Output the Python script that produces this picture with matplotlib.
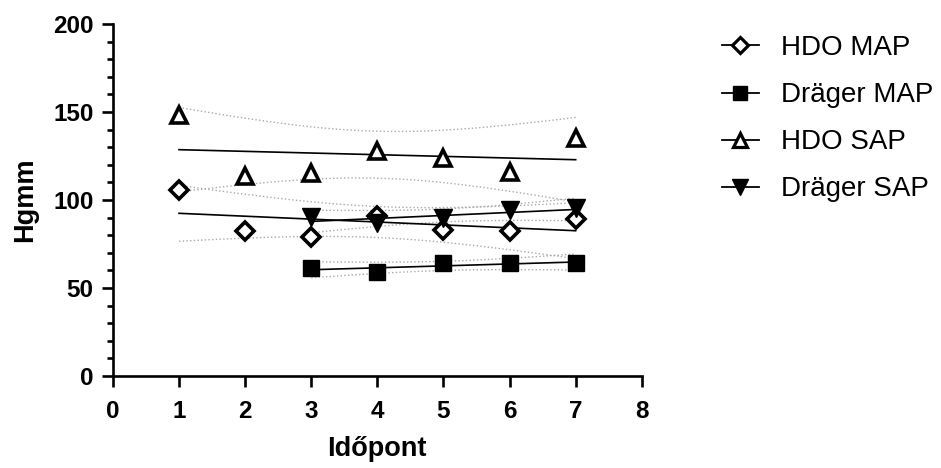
import numpy as np
import matplotlib
matplotlib.use("Agg")
from matplotlib import pyplot as plt
from matplotlib.ticker import MultipleLocator

plt.rcParams['font.family'] = ['Liberation Sans', 'DejaVu Sans']

# mérési adatok (időpont -> Hgmm)
hdo_x = [1, 2, 3, 4, 5, 6, 7]
hdo_map = [105.7, 82.5, 79.0, 90.9, 82.9, 82.5, 89.0]
hdo_sap = [148.6, 113.7, 115.2, 127.6, 123.8, 116.2, 135.2]

drager_x = [3, 4, 5, 6, 7]
drager_map = [61.3, 59.0, 64.2, 64.2, 64.2]
drager_sap = [90.5, 86.7, 89.5, 94.3, 95.2]

# t-értékek a 95%-os konfidenciasávhoz (df = n - 2)
t95 = {3: 3.182, 5: 2.571}


def regresszio(ax, x, y):
    """Lineáris illesztés + 95%-os konfidenciasáv."""
    x = np.asarray(x, float)
    y = np.asarray(y, float)
    n = len(x)
    b, a = np.polyfit(x, y, 1)
    res = y - (a + b * x)
    s = np.sqrt(np.sum(res ** 2) / (n - 2))
    sxx = np.sum((x - x.mean()) ** 2)
    xx = np.linspace(x.min(), x.max(), 100)
    yy = a + b * xx
    se = s * np.sqrt(1.0 / n + (xx - x.mean()) ** 2 / sxx)
    d = t95[n - 2] * se
    ax.plot(xx, yy, color='k', lw=1.2, zorder=2)
    ax.plot(xx, yy + d, color='#aaaaaa', lw=1.0, ls=':', zorder=1)
    ax.plot(xx, yy - d, color='#aaaaaa', lw=1.0, ls=':', zorder=1)


fig = plt.figure(figsize=(9.41, 4.68), dpi=100)
ax = fig.add_axes([0.120, 0.1966, 0.562, 0.752])

regresszio(ax, hdo_x, hdo_map)
regresszio(ax, drager_x, drager_map)
regresszio(ax, hdo_x, hdo_sap)
regresszio(ax, drager_x, drager_sap)

mew = 2.6
ax.plot(hdo_x, hdo_map, ls='none', marker='D', ms=9.5, mfc='white', mec='k', mew=mew, zorder=3)
ax.plot(drager_x, drager_map, ls='none', marker='s', ms=11, mfc='k', mec='k', zorder=3)
ax.plot(hdo_x, hdo_sap, ls='none', marker='^', ms=11.5, mfc='white', mec='k', mew=mew, zorder=3)
ax.plot(drager_x, drager_sap, ls='none', marker='v', ms=12.5, mfc='k', mec='k', zorder=3)

# jelmagyarázat (vonal + jelölő)
h1, = ax.plot([], [], color='k', lw=1.3, marker='D', ms=8, mfc='white', mec='k', mew=2.3)
h2, = ax.plot([], [], color='k', lw=1.3, marker='s', ms=10, mfc='k', mec='k')
h3, = ax.plot([], [], color='k', lw=1.3, marker='^', ms=10, mfc='white', mec='k', mew=2.3)
h4, = ax.plot([], [], color='k', lw=1.3, marker='v', ms=11, mfc='k', mec='k')
ax.legend([h1, h2, h3, h4], ['HDO MAP', 'Dräger MAP', 'HDO SAP', 'Dräger SAP'],
          loc='upper left', bbox_to_anchor=(1.13, 1.0), frameon=False,
          fontsize=20, handlelength=1.35, handletextpad=0.8, labelspacing=0.76,
          borderaxespad=0.0)

ax.set_xlim(0, 8)
ax.set_ylim(0, 200)
ax.xaxis.set_major_locator(MultipleLocator(1))
ax.yaxis.set_major_locator(MultipleLocator(50))
ax.yaxis.set_minor_locator(MultipleLocator(10))

for side in ['top', 'right']:
    ax.spines[side].set_visible(False)
for side in ['left', 'bottom']:
    ax.spines[side].set_linewidth(1.9)

ax.tick_params(which='major', length=8, width=1.9, labelsize=17.5)
ax.tick_params(which='minor', length=4, width=1.9)
ax.tick_params(axis='x', pad=9)
ax.tick_params(axis='y', pad=6)
for lab in ax.get_xticklabels() + ax.get_yticklabels():
    lab.set_fontweight('bold')

ax.set_xlabel('Időpont', fontsize=19.5, fontweight='bold', labelpad=10)
ax.set_ylabel('Hgmm', fontsize=19.5, fontweight='bold', labelpad=11)

fig.savefig('out.png', dpi=100)
